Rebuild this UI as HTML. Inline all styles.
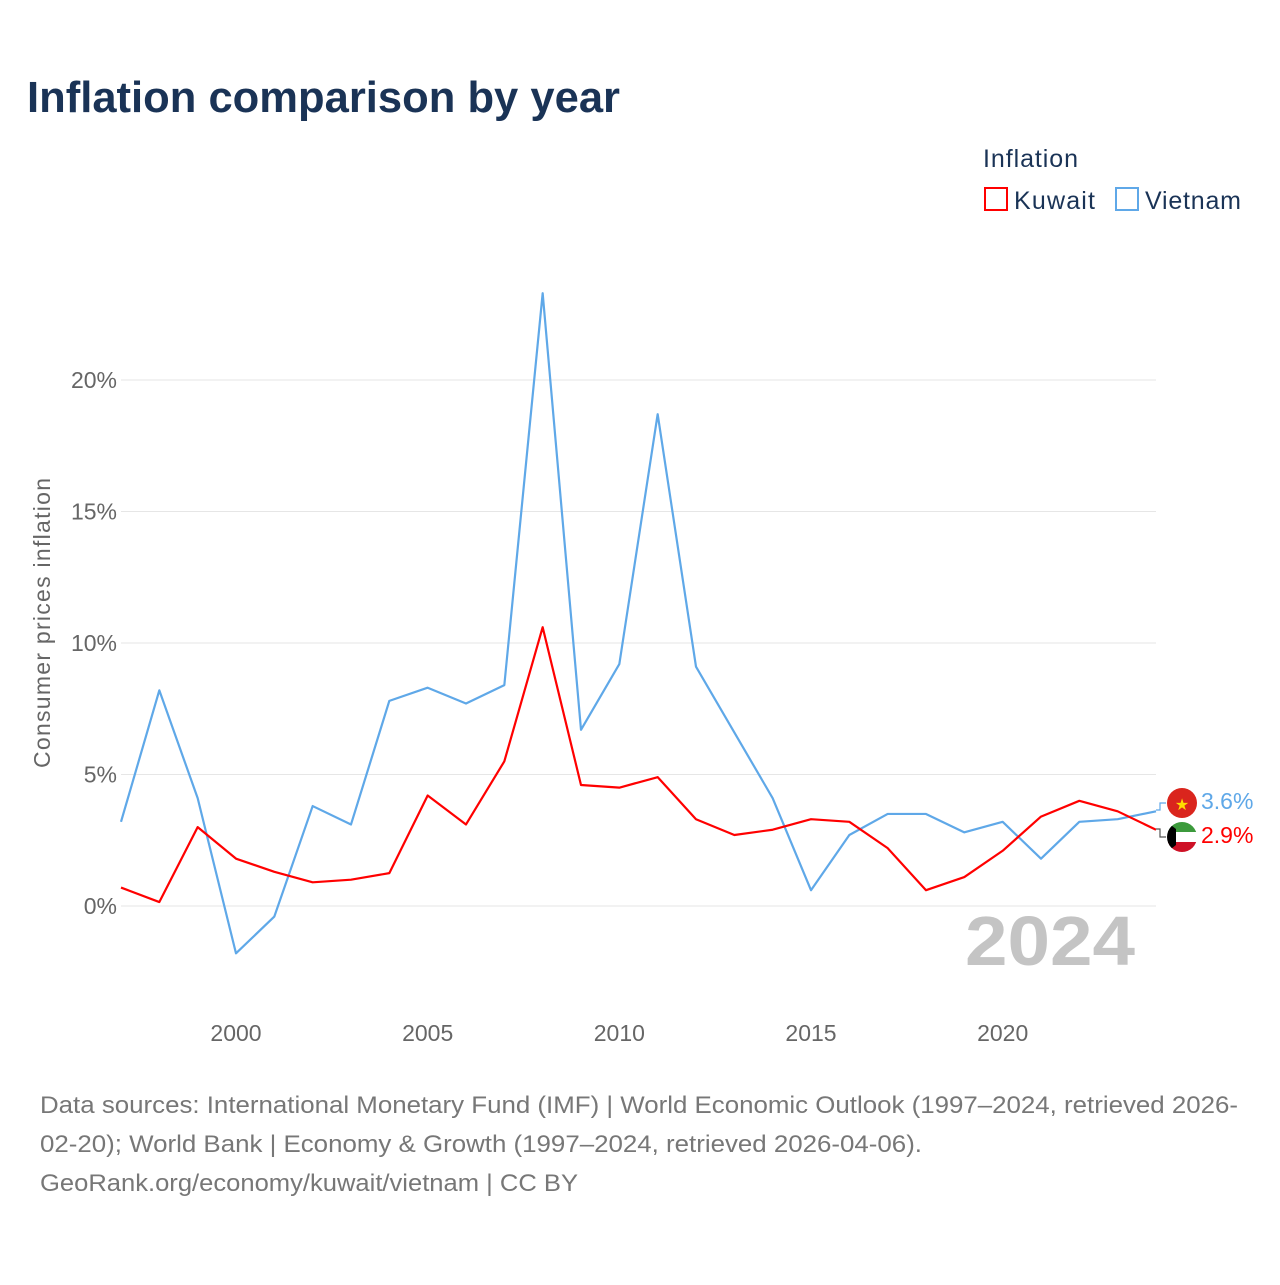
<!DOCTYPE html>
<html><head><meta charset="utf-8"><style>
body{margin:0;background:#fff;font-family:"Liberation Sans",sans-serif;}
</style></head><body>
<svg width="1280" height="1280" viewBox="0 0 1280 1280" xmlns="http://www.w3.org/2000/svg">
<rect width="1280" height="1280" fill="#fff"/>
<text x="27" y="112" font-size="44" font-weight="bold" fill="#1a3356" textLength="593" lengthAdjust="spacingAndGlyphs">Inflation comparison by year</text>
<text x="983" y="167" font-size="25" fill="#1a3356" textLength="95">Inflation</text>
<g><rect x="985" y="188" width="22" height="22" fill="none" stroke="#ff0000" stroke-width="2"/><text x="1014" y="209" font-size="25" fill="#1a3356" textLength="81">Kuwait</text></g>
<g><rect x="1116" y="188" width="22" height="22" fill="none" stroke="#5fa8e8" stroke-width="2"/><text x="1145" y="209" font-size="25" fill="#1a3356" textLength="96">Vietnam</text></g>
<g id="grid"></g>
<g id="yticks"></g>
<g id="xticks"></g>
<text transform="translate(50,623) rotate(-90)" text-anchor="middle" font-size="23" fill="#666" textLength="290">Consumer prices inflation</text>
<text x="1135" y="965" text-anchor="end" font-size="70" font-weight="bold" fill="#c4c4c4" textLength="170" lengthAdjust="spacingAndGlyphs">2024</text>
<g id="series"></g>
<polyline points="1156,810 1160,810 1160,803 1166,803" fill="none" stroke="#5fa8e8" stroke-width="1.2"/>
<polyline points="1156,829 1160,829 1160,837 1166,837" fill="none" stroke="#555" stroke-width="1.2"/>
<g><circle cx="1182" cy="803" r="15" fill="#da251d"/><text x="1182" y="810" text-anchor="middle" font-size="16" fill="#ffdd00">★</text></g>
<g><clipPath id="kc"><circle cx="1182" cy="837" r="15"/></clipPath><g clip-path="url(#kc)"><rect x="1167" y="822" width="30" height="10" fill="#3c9a3c"/><rect x="1167" y="832" width="30" height="10" fill="#fff"/><rect x="1167" y="842" width="30" height="10" fill="#ce1126"/><polygon points="1167,822 1176,829 1176,845 1167,852" fill="#000"/></g></g>
<text x="1201" y="809" font-size="23" fill="#5fa8e8">3.6%</text>
<text x="1201" y="843" font-size="23" fill="#ff0000">2.9%</text>
<g font-size="24" fill="#777">
<text x="40" y="1113" textLength="1198" lengthAdjust="spacingAndGlyphs">Data sources: International Monetary Fund (IMF) | World Economic Outlook (1997–2024, retrieved 2026-</text>
<text x="40" y="1152" textLength="882" lengthAdjust="spacingAndGlyphs">02-20); World Bank | Economy &amp; Growth (1997–2024, retrieved 2026-04-06).</text>
<text x="40" y="1191" textLength="538" lengthAdjust="spacingAndGlyphs">GeoRank.org/economy/kuwait/vietnam | CC BY</text>
</g>
</svg>
<script>
const years=[1997,1998,1999,2000,2001,2002,2003,2004,2005,2006,2007,2008,2009,2010,2011,2012,2013,2014,2015,2016,2017,2018,2019,2020,2021,2022,2023,2024];
const vietnam=[3.2,8.2,4.1,-1.8,-0.4,3.8,3.1,7.8,8.3,7.7,8.4,23.3,6.7,9.2,18.7,9.1,6.6,4.1,0.6,2.7,3.5,3.5,2.8,3.2,1.8,3.2,3.3,3.6];
const kuwait=[0.7,0.15,3.0,1.8,1.3,0.9,1.0,1.25,4.2,3.1,5.5,10.6,4.6,4.5,4.9,3.3,2.7,2.9,3.3,3.2,2.2,0.6,1.1,2.1,3.4,4.0,3.6,2.9];
const yTicks=[0,5,10,15,20];
const xTicks=[2000,2005,2010,2015,2020];
const NS="http://www.w3.org/2000/svg";
const x=v=>121+(v-1997)*(1156-121)/27;
const y=v=>906-v*26.3;
function mk(t,a,p){const e=document.createElementNS(NS,t);for(const k in a)e.setAttribute(k,a[k]);p.appendChild(e);return e;}
const grid=document.getElementById('grid'),yt=document.getElementById('yticks'),xt=document.getElementById('xticks');
yTicks.forEach(v=>{
 const l=mk('line',{x1:121,x2:1156,y1:y(v),y2:y(v),stroke:'#e6e6e6','stroke-width':1},grid);
 
 
 const t=mk('text',{x:117,y:y(v)+8,'text-anchor':'end','font-size':23,fill:'#666'},yt);
 t.textContent=v+'%';
 
 
});
xTicks.forEach(v=>{
 const t=mk('text',{x:x(v),y:1041,'text-anchor':'middle','font-size':23,fill:'#666'},xt);
 t.textContent=v;
 
 
});
const s=document.getElementById('series');
function line(d,c,name){
 const p=mk('polyline',{points:d.map((v,i)=>x(years[i])+','+y(v)).join(' '),fill:'none',stroke:c,'stroke-width':2.2,'stroke-linejoin':'round'},s);
 
 
}
line(vietnam,'#5fa8e8','vietnam-line');
line(kuwait,'#ff0000','kuwait-line');
</script>
</body></html>
